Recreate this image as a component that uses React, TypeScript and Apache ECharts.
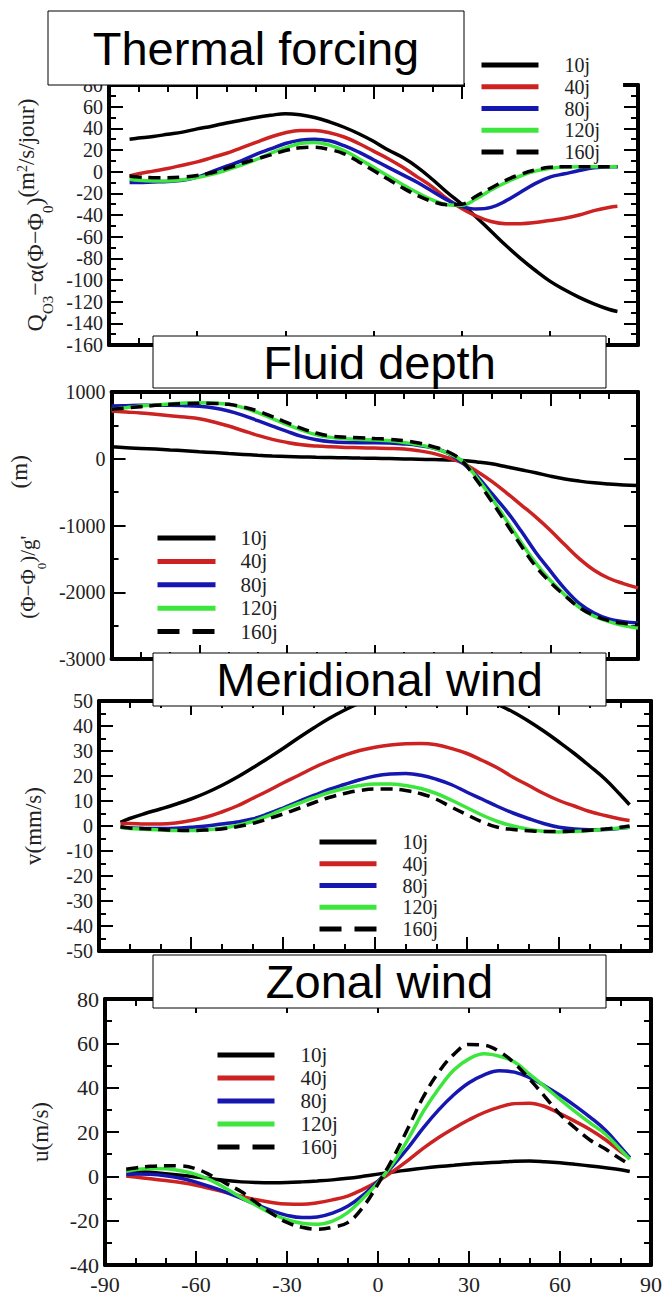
import React, { useEffect, useRef } from "react";
import * as echarts from "echarts";

// ---------- data ----------
const LAT = [-83, -80, -75, -70, -65, -60, -55, -50, -45, -40, -35, -30, -25, -20, -15, -10, -5, 0, 5, 10, 15, 20, 25, 30, 35, 40, 45, 50, 55, 60, 65, 70, 75, 80, 83];
const LAT_DEPTH = [-90, -85, -80, -75, -70, -65, -60, -55, -50, -45, -40, -35, -30, -25, -20, -15, -10, -5, 0, 5, 10, 15, 20, 25, 30, 35, 40, 45, 50, 55, 60, 65, 70, 75, 80, 85, 90];
const RUNS = ["10j", "40j", "80j", "120j", "160j"];
const X_TICKS = [-90, -60, -30, 0, 30, 60, 90];

// Thermal forcing (m2/s/jour)
const forcing10 = [30, 31, 32.5, 34.5, 36.5, 39.5, 42, 45, 47.5, 50, 52, 53.5, 52.5, 50, 46, 41, 35, 28, 20, 13, 4, -7, -19, -30, -42, -55, -68, -80, -91, -101, -109, -116, -122, -127, -129];
const forcing40 = [-4, -2, 0.5, 3, 6, 9, 13, 17, 22, 27, 32, 36, 38, 38, 36, 32, 26, 19, 12, 4, -5, -14, -25, -34, -41, -46, -48, -48, -47, -45, -43, -40, -36, -33, -32];
const forcing80 = [-10, -10, -9.5, -9, -8, -5, 0, 5, 10, 16, 21, 26, 29, 30, 28.5, 24, 18, 11, 4, -3, -10, -18, -26, -32, -34.5, -33, -27, -19, -11, -5, -2, 1, 3.5, 4.5, 4.6];
const forcing120 = [-7, -8, -8.5, -8.5, -7.5, -5.5, -2.5, 1.5, 6, 11, 17, 22, 26, 27, 24.5, 19.5, 12, 4, -4, -12, -19.5, -26, -30.5, -31, -25, -17, -10, -4, 0.5, 3, 4.3, 4.6, 4.6, 4.6, 4.6];
const forcing160 = [-4, -5, -5.5, -5.5, -5, -3.5, -1, 3, 7.5, 11.5, 15.5, 19.5, 22, 22.5, 20.5, 16.5, 9, 1, -7, -15, -22, -27.5, -30.5, -30, -22.5, -15, -8, -2.5, 1.5, 4, 4.6, 4.6, 4.6, 4.6, 4.6];

// Fluid depth (m)
const depth10 = [180, 165, 155, 145, 132, 120, 105, 92, 78, 65, 52, 42, 35, 28, 22, 18, 14, 10, 7, 3, -2, -7, -12, -18, -27, -48, -76, -120, -165, -210, -260, -303, -335, -360, -378, -392, -400];
const depth40 = [715, 700, 685, 665, 645, 625, 600, 550, 490, 420, 350, 290, 245, 210, 190, 178, 170, 165, 160, 155, 145, 120, 80, 15, -65, -190, -340, -510, -690, -870, -1070, -1290, -1500, -1670, -1790, -1870, -1935];
const depth80 = [790, 795, 800, 800, 800, 795, 785, 760, 715, 650, 570, 490, 410, 335, 285, 255, 242, 240, 240, 235, 222, 200, 160, 85, -60, -260, -520, -780, -1080, -1400, -1680, -1950, -2170, -2310, -2400, -2440, -2460];
const depth120 = [740, 765, 790, 805, 820, 835, 840, 835, 815, 765, 690, 600, 510, 430, 360, 320, 300, 290, 280, 268, 245, 210, 160, 85, -35, -290, -590, -920, -1250, -1560, -1820, -2040, -2230, -2360, -2440, -2500, -2535];
const depth160 = [740, 760, 780, 800, 815, 825, 830, 828, 815, 775, 715, 630, 540, 455, 385, 340, 322, 313, 303, 292, 270, 235, 180, 105, -35, -330, -640, -970, -1300, -1610, -1850, -2050, -2230, -2350, -2425, -2465, -2485];

// Meridional wind (mm/s)
const merid10 = [1.5, 3, 5, 6.8, 8.7, 10.8, 13.3, 16.2, 19.5, 23.2, 27, 31, 35.2, 39.2, 43, 46.3, 49.2, 51.8, 54, 55.5, 56.3, 56.3, 55.3, 53.5, 51.2, 48.6, 45.6, 42, 38, 33.6, 29, 24, 18.8, 12.5, 8.5];
const merid40 = [1, 1, 0.8, 0.8, 1.2, 2.2, 3.6, 5.6, 8, 11, 14, 17.2, 20.2, 23.3, 26, 28.3, 30.2, 31.5, 32.4, 32.9, 33, 32.5, 31, 29, 26.2, 23.2, 19.5, 16.3, 13, 10.2, 8, 5.8, 4.2, 2.8, 2.2];
const merid80 = [-0.5, -0.8, -1, -1, -0.9, -0.5, 0, 0.8, 1.6, 2.8, 4.8, 7.2, 9.8, 12.2, 14.6, 16.6, 18.5, 20, 20.8, 21, 20.3, 18.7, 16.5, 13.5, 10.7, 7.8, 5.2, 3, 1, -0.5, -1.2, -1.5, -1.4, -0.9, -0.5];
const merid120 = [-0.5, -1, -1.3, -1.6, -1.8, -1.8, -1.5, -0.9, 0.2, 1.8, 4, 6.7, 9, 11.3, 13.4, 15, 16.2, 16.8, 16.8, 16.2, 15, 13, 10.3, 7.3, 4.3, 1.8, 0, -1.3, -2.1, -2.4, -2.2, -1.8, -1.3, -0.8, -0.5];
const merid160 = [-0.3, -0.8, -1.1, -1.4, -1.7, -1.8, -1.6, -1.2, -0.3, 1, 2.8, 4.8, 7, 9.3, 11.4, 13, 14.2, 14.8, 14.8, 14.2, 12.9, 10.7, 7.5, 4.5, 1.6, -0.5, -1.4, -1.9, -2.2, -2.2, -2, -1.7, -1.2, -0.5, 0];

// Zonal wind (m/s)
const zonal10 = [2.5, 2.3, 1.8, 1.2, 0.5, -0.3, -1.1, -1.9, -2.5, -2.8, -2.9, -2.8, -2.5, -2.1, -1.6, -0.9, 0, 1, 2, 2.9, 3.7, 4.4, 5, 5.6, 6, 6.4, 6.8, 6.9, 6.6, 6.1, 5.4, 4.7, 3.9, 3, 2.2];
const zonal40 = [0.2, -0.3, -1.1, -1.9, -2.8, -4, -5.6, -7.3, -9, -10.6, -11.8, -12.5, -12.6, -11.9, -10.6, -8.9, -5.9, -2.2, 2.3, 7.3, 12.7, 17.5, 21.7, 25.5, 28.8, 31.2, 32.8, 33, 31.5, 28.3, 24.8, 21, 16.5, 11.2, 8.4];
const zonal80 = [0.8, 1, 0.9, 0.3, -0.9, -2.6, -4.8, -7.2, -10, -12.8, -15.5, -17.6, -18.6, -18.3, -16.6, -13.5, -8.6, -2.2, 5, 13, 22, 30, 36.8, 42.2, 45.8, 47.6, 47, 44.5, 40.8, 36.6, 31.8, 26.6, 20.8, 13.2, 8.4];
const zonal120 = [2.4, 3, 3.5, 3.4, 2.5, 0.9, -1.8, -5.6, -9.6, -13.2, -16.8, -19.6, -21.2, -21.6, -20.2, -16.4, -10, -2.8, 6, 17, 29.4, 39.5, 48, 53, 55.3, 54.2, 51.6, 46, 40.5, 34.7, 29.2, 24, 19, 12, 7.7];
const zonal160 = [3.2, 3.8, 4.5, 4.8, 4.7, 3.4, 0.4, -3.3, -7, -12, -16.8, -20.8, -23, -23.9, -23, -20.9, -14, -3.5, 8.4, 22, 36, 47, 55, 59.5, 59.2, 56.3, 51, 43.8, 36, 28, 21.8, 16.3, 12.3, 7.8, 5.4];

const PANEL_TITLES = ["Thermal forcing", "Fluid depth", "Meridional wind", "Zonal wind"];

// ---------- styling / layout ----------
const SERIF = "Liberation Serif";
const SANS = "Liberation Sans";
const COLORS = ["#000000", "#cc2222", "#1616b0", "#3ce63c", "#000000"];
const LABEL_COLOR = "#222";

function makeRich(main: number) {
  return {
    m: { fontFamily: SERIF, fontSize: main, lineHeight: 40, verticalAlign: "middle", color: LABEL_COLOR },
    sub: { fontFamily: SERIF, fontSize: Math.round(main * 0.62), lineHeight: 20, verticalAlign: "bottom", color: LABEL_COLOR },
    up: { fontFamily: SERIF, fontSize: 23, lineHeight: 24, verticalAlign: "top", color: LABEL_COLOR },
    sup: { fontFamily: SERIF, fontSize: 14, lineHeight: 12, verticalAlign: "top", color: LABEL_COLOR },
  };
}

const panels = [
  {
    lat: LAT, series: [forcing10, forcing40, forcing80, forcing120, forcing160],
    grid: { left: 109, top: 85, width: 529, height: 260 },
    y: { min: -160, max: 80, interval: 20 }, labelSize: 20,
    name: "{m|Q}{sub|O3}{m|−α(Φ−Φ}{sub|0}{m|)}{up|(m}{sup|2}{up|/s/jour)}",
    rich: makeRich(24),
    nameGap: 50,
    legend: { left: 465, top: 49, itemWidth: 57, itemGap: 1.75, fontSize: 20, padding: [6, 23, 0, 14], bg: "#fff", textPad: 21 },
    box: { x: 48, y: 11, w: 416, h: 74 },
  },
  {
    lat: LAT_DEPTH, series: [depth10, depth40, depth80, depth120, depth160],
    grid: { left: 109, top: 392, width: 529, height: 267 },
    y: { min: -3000, max: 1000, interval: 1000 }, labelSize: 20,
    name: "{m|(Φ−Φ}{sub|0}{m|)/g'}{m|         }{up|(m)}{up|    }",
    rich: makeRich(21),
    nameGap: 50,
    legend: { left: 155, top: 527.5, itemWidth: 58, itemGap: 2.4, fontSize: 21, padding: 0, bg: "transparent", textPad: 20 },
    box: { x: 153, y: 336, w: 453, h: 52 },
  },
  {
    lat: LAT, series: [merid10, merid40, merid80, merid120, merid160],
    grid: { left: 99, top: 701, width: 552, height: 250 },
    y: { min: -50, max: 50, interval: 10 }, labelSize: 20,
    name: "v(mm/s)",
    rich: makeRich(23),
    nameGap: 54,
    legend: { left: 317, top: 832, itemWidth: 57, itemGap: 1.75, fontSize: 20, padding: 0, bg: "transparent", textPad: 21 },
    box: { x: 153, y: 653, w: 453, h: 53 },
  },
  {
    lat: LAT, series: [zonal10, zonal40, zonal80, zonal120, zonal160],
    grid: { left: 105, top: 999, width: 546, height: 266 },
    y: { min: -40, max: 80, interval: 20 }, labelSize: 22,
    name: "u(m/s)",
    rich: makeRich(23),
    nameGap: 53,
    legend: { left: 215, top: 1044.5, itemWidth: 57, itemGap: 2, fontSize: 21, padding: 0, bg: "transparent", textPad: 21 },
    box: { x: 153, y: 955, w: 453, h: 53 },
  },
];

function axisDecor(minorSplit: number) {
  return {
    axisLine: { show: true, onZero: false, lineStyle: { color: "#000", width: 4 } },
    axisTick: { show: true, inside: true, length: 14, lineStyle: { color: "#000", width: 2 } },
    minorTick: { show: true, splitNumber: minorSplit, length: 7, lineStyle: { color: "#000", width: 2 } },
    splitLine: { show: false },
    minorSplitLine: { show: false },
  };
}

const plainNumber = (v: number) => String(v);

function buildOption() {
  const grid: any[] = [];
  const xAxis: any[] = [];
  const yAxis: any[] = [];
  const series: any[] = [];
  const legend: any[] = [];
  const graphic: any[] = [];

  panels.forEach((p, i) => {
    grid.push({ ...p.grid, containLabel: false });
    const isLast = i === panels.length - 1;
    xAxis.push({
      type: "value", gridIndex: i, position: "bottom",
      min: X_TICKS[0], max: X_TICKS[X_TICKS.length - 1], interval: 30,
      ...axisDecor(3),
      axisLabel: { show: isLast, fontFamily: SERIF, fontSize: 22, color: LABEL_COLOR, margin: 8, formatter: plainNumber },
    });
    xAxis.push({
      type: "value", gridIndex: i, position: "top",
      min: X_TICKS[0], max: X_TICKS[X_TICKS.length - 1], interval: 30,
      ...axisDecor(3),
      axisLabel: { show: false },
    });
    yAxis.push({
      type: "value", gridIndex: i, position: "left",
      min: p.y.min, max: p.y.max, interval: p.y.interval,
      ...axisDecor(2),
      axisLabel: { show: true, fontFamily: SERIF, fontSize: p.labelSize, color: LABEL_COLOR, margin: 6, formatter: plainNumber },
      name: p.name, nameLocation: "middle", nameRotate: 90, nameGap: p.nameGap,
      nameTextStyle: { fontFamily: SERIF, fontSize: 23, color: LABEL_COLOR, rich: p.rich },
    });
    yAxis.push({
      type: "value", gridIndex: i, position: "right",
      min: p.y.min, max: p.y.max, interval: p.y.interval,
      ...axisDecor(2),
      axisLabel: { show: false },
    });

    p.series.forEach((vals, r) => {
      series.push({
        type: "line",
        name: RUNS[r],
        xAxisIndex: 2 * i,
        yAxisIndex: 2 * i,
        data: p.lat.map((x, k) => [x, vals[k]]),
        smooth: 0.4,
        symbol: "none",
        showSymbol: false,
        clip: true,
        lineStyle: { color: COLORS[r], width: 3.5, type: r === 4 ? [12, 7] : "solid" },
        itemStyle: { color: COLORS[r] },
        z: 2 + r,
      });
    });

    legend.push({
      show: true,
      orient: "vertical",
      left: p.legend.left,
      top: p.legend.top,
      padding: p.legend.padding,
      backgroundColor: p.legend.bg,
      itemWidth: p.legend.itemWidth,
      itemHeight: 14,
      itemGap: p.legend.itemGap,
      selectedMode: false,
      itemStyle: { opacity: 0, borderWidth: 0 },
      lineStyle: { width: 5 },
      data: RUNS.map((n, r) => (r === 4 ? { name: n, lineStyle: { type: [22, 13], width: 5 } } : { name: n })),
      textStyle: { fontFamily: SERIF, fontSize: p.legend.fontSize, color: LABEL_COLOR, padding: [0, 0, 0, p.legend.textPad] },
      z: 10,
    });

    graphic.push({
      type: "rect",
      shape: { x: p.box.x, y: p.box.y, width: p.box.w, height: p.box.h },
      style: { fill: "#fff", stroke: "#000", lineWidth: 1 },
      z: 100,
    });
    graphic.push({
      type: "text",
      x: p.box.x + p.box.w / 2,
      y: p.box.y + p.box.h / 2,
      style: {
        text: PANEL_TITLES[i],
        fontFamily: SANS,
        fontSize: 47,
        fill: "#000",
        textAlign: "center",
        textVerticalAlign: "middle",
        align: "center",
        verticalAlign: "middle",
      },
      z: 101,
    });
  });

  return {
    animation: false,
    backgroundColor: "#fff",
    grid, xAxis, yAxis, series, legend, graphic,
  };
}

export default function App() {
  const ref = useRef<HTMLDivElement>(null);
  useEffect(() => {
    if (!ref.current) return;
    const chart = echarts.init(ref.current, undefined, { renderer: "svg", width: 668, height: 1295 });
    chart.setOption(buildOption() as any);
    return () => chart.dispose();
  }, []);
  return (
    <div
      ref={ref}
      style={{ position: "absolute", left: 0, top: 0, width: 668, height: 1295, background: "#fff" }}
    />
  );
}
